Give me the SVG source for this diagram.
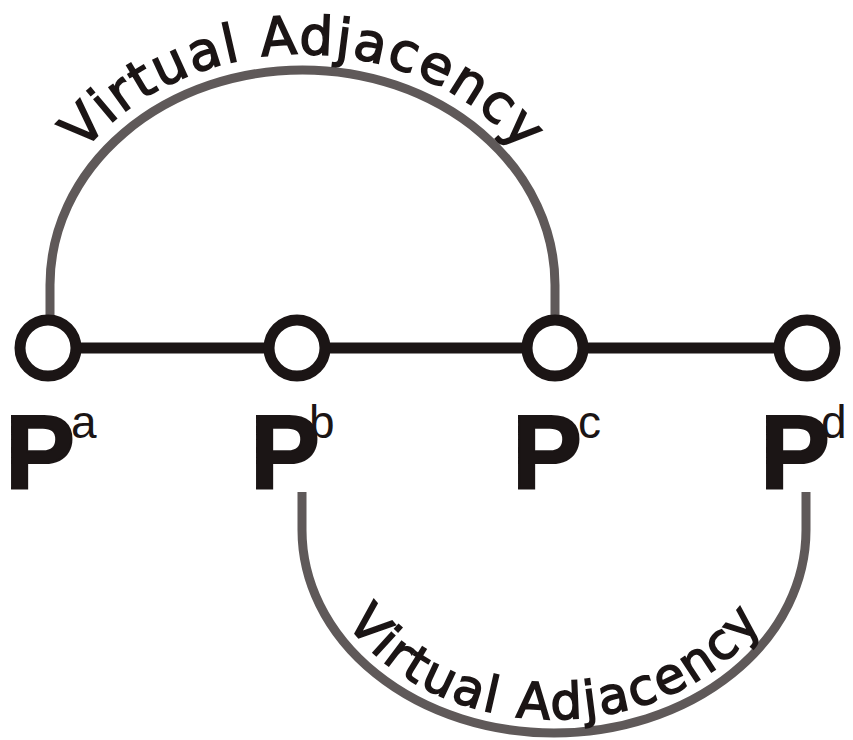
<svg xmlns="http://www.w3.org/2000/svg" width="853" height="740" viewBox="0 0 853 740">
<style>
.edge{stroke:#1b1515;stroke-width:11;fill:none}
.arc{stroke:#5f5959;stroke-width:9;fill:none}
.node{fill:#ffffff;stroke:#1b1515;stroke-width:11}
.plab{font-family:"Liberation Sans",Arial,sans-serif;font-weight:bold;font-size:105px;fill:#1b1515;stroke:#1b1515;stroke-width:2}
.sup{font-weight:normal;font-size:46px;stroke-width:0}
.alab{font-family:"DejaVu Sans","Liberation Sans",sans-serif;fill:#1b1515;stroke:#1b1515;stroke-width:1.6}
</style>
<defs>
<path id="tp-top" d="M34,315 L34,285 A268.5,231 0 0 1 571,285 L571,315"/>
<path id="tp-bot" d="M316,492 L316,530 A238,189 0 0 0 792,530 L792,492"/>
</defs>
<g id="connectors">
<line class="edge" x1="48" y1="348" x2="297" y2="348"/>
<line class="edge" x1="297" y1="348" x2="555" y2="348"/>
<line class="edge" x1="555" y1="348" x2="807" y2="348"/>
<path class="arc" d="M50,315 L50,285 A252.5,215 0 0 1 555,285 L555,315"/>
<path class="arc" d="M302,492 L302,530 A252,203 0 0 0 806,530 L806,492"/>
<text class="alab" font-size="53" text-anchor="middle"><textPath href="#tp-top" startOffset="50%" textLength="495" lengthAdjust="spacing">Virtual Adjacency</textPath></text>
<text class="alab" font-size="50" text-anchor="middle"><textPath href="#tp-bot" startOffset="50%" textLength="475" lengthAdjust="spacing">Virtual Adjacency</textPath></text>
</g>
<g id="node-pa">
<circle class="node" cx="48" cy="348" r="28"/>
<text class="plab" x="5" y="489">P<tspan class="sup" dx="-4" dy="-51">a</tspan></text>
</g>
<g id="node-pb">
<circle class="node" cx="297" cy="348" r="28"/>
<text class="plab" x="250" y="489">P<tspan class="sup" dx="-11" dy="-51">b</tspan></text>
</g>
<g id="node-pc">
<circle class="node" cx="555" cy="348" r="28"/>
<text class="plab" x="512" y="489">P<tspan class="sup" dx="-4" dy="-51">c</tspan></text>
</g>
<g id="node-pd">
<circle class="node" cx="807" cy="348" r="28"/>
<text class="plab" x="760" y="489">P<tspan class="sup" dx="-9" dy="-51">d</tspan></text>
</g>
</svg>
